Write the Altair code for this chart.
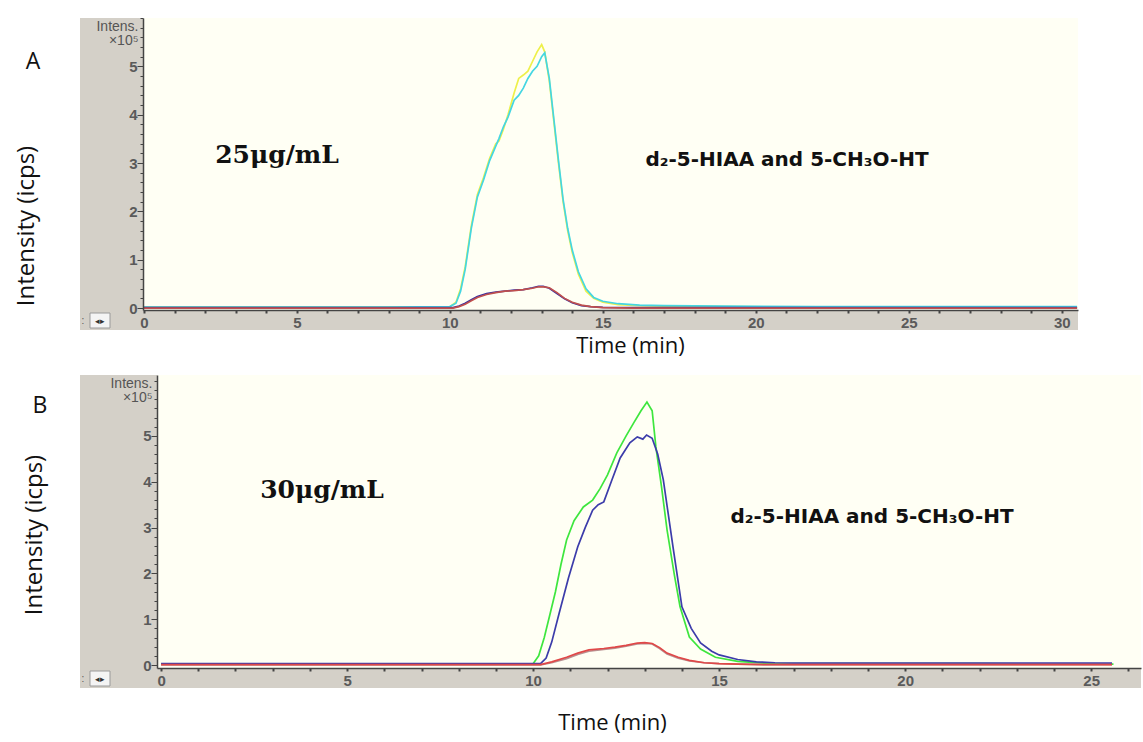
import altair as alt
import pandas as pd

# ---------------- Panel A (25 µg/mL) : time (min) / intensity (x10^5 icps) ----------------
A_YELLOW_T = [0.0, 2.0, 5.0, 8.0, 10.0, 10.2, 10.35, 10.5, 10.7, 10.9, 11.1, 11.3, 11.5, 11.6, 11.75,
              11.9, 12.1, 12.25, 12.4, 12.55, 12.7, 12.85, 13.0, 13.1, 13.25, 13.4, 13.55, 13.7, 13.85,
              14.0, 14.2, 14.45, 14.7, 15.0, 15.5, 16.2, 17.0, 19.0, 22.0, 25.0, 28.0, 30.5]
A_YELLOW_V = [0.02, 0.02, 0.02, 0.02, 0.03, 0.12, 0.4, 0.85, 1.7, 2.35, 2.7, 3.1, 3.4, 3.45, 3.7,
              4.0, 4.45, 4.75, 4.82, 4.9, 5.1, 5.3, 5.45, 5.3, 4.7, 3.85, 3.0, 2.2, 1.6,
              1.15, 0.7, 0.35, 0.2, 0.12, 0.07, 0.05, 0.04, 0.03, 0.02, 0.02, 0.02, 0.02]
A_CYAN_T = A_YELLOW_T
A_CYAN_V = [0.02, 0.02, 0.02, 0.02, 0.03, 0.1, 0.35, 0.8, 1.65, 2.3, 2.65, 3.05, 3.35, 3.5, 3.75,
            3.95, 4.3, 4.4, 4.55, 4.75, 4.9, 5.0, 5.2, 5.28, 4.75, 3.9, 3.05, 2.25, 1.65,
            1.2, 0.75, 0.4, 0.22, 0.14, 0.09, 0.06, 0.05, 0.04, 0.03, 0.03, 0.03, 0.03]
A_PURPLE_T = [0.0, 3.0, 6.0, 9.0, 10.1, 10.3, 10.5, 10.7, 10.9, 11.2, 11.5, 11.8, 12.1, 12.4, 12.7,
              12.9, 13.05, 13.25, 13.5, 13.75, 14.0, 14.3, 14.6, 15.0, 16.0, 18.0, 21.0, 25.0, 30.5]
A_PURPLE_V = [0.01, 0.01, 0.01, 0.01, 0.01, 0.04, 0.1, 0.17, 0.24, 0.3, 0.33, 0.35, 0.37, 0.38, 0.42,
              0.45, 0.45, 0.41, 0.3, 0.19, 0.11, 0.05, 0.03, 0.015, 0.01, 0.01, 0.01, 0.01, 0.01]
A_RED_T = A_PURPLE_T
A_RED_V = [0.0, 0.0, 0.0, 0.0, 0.0, 0.03, 0.08, 0.15, 0.22, 0.28, 0.32, 0.35, 0.36, 0.38, 0.41,
           0.44, 0.44, 0.42, 0.32, 0.2, 0.12, 0.06, 0.03, 0.01, 0.0, 0.0, 0.0, 0.0, 0.0]

# ---------------- Panel B (30 µg/mL) ----------------
B_GREEN_T = [0.0, 3.0, 6.0, 9.0, 10.0, 10.15, 10.3, 10.46, 10.6, 10.75, 10.9, 11.1, 11.35, 11.6, 11.8,
             12.0, 12.25, 12.5, 12.7, 12.9, 13.06, 13.2, 13.3, 13.45, 13.6, 13.8, 13.95, 14.2, 14.5,
             14.9, 15.5, 16.2, 17.0, 19.0, 22.0, 25.6]
B_GREEN_V = [0.02, 0.02, 0.02, 0.02, 0.03, 0.2, 0.6, 1.13, 1.6, 2.2, 2.73, 3.15, 3.45, 3.6, 3.85,
             4.15, 4.63, 5.0, 5.28, 5.55, 5.74, 5.55, 4.76, 3.9, 2.95, 1.95, 1.27, 0.61, 0.35,
             0.17, 0.08, 0.04, 0.03, 0.03, 0.03, 0.02]
B_BLUE_T = [0.0, 3.0, 6.0, 9.0, 10.2, 10.35, 10.5, 10.7, 10.95, 11.2, 11.4, 11.6, 11.75, 11.9, 12.1,
            12.34, 12.6, 12.8, 12.95, 13.05, 13.2, 13.35, 13.5, 13.76, 14.0, 14.25, 14.5, 14.8, 15.0,
            15.5, 16.0, 16.5, 17.0, 20.0, 23.0, 25.56]
B_BLUE_V = [0.03, 0.03, 0.03, 0.03, 0.03, 0.15, 0.5, 1.13, 1.9, 2.58, 3.0, 3.38, 3.5, 3.56, 4.0,
            4.52, 4.85, 4.98, 4.93, 5.02, 4.95, 4.6, 4.04, 2.58, 1.27, 0.8, 0.48, 0.3, 0.22,
            0.12, 0.07, 0.05, 0.04, 0.04, 0.04, 0.04]
B_RED_T = [0.0, 3.0, 6.0, 9.0, 10.2, 10.5, 10.9, 11.2, 11.5, 11.9, 12.2, 12.5, 12.8, 13.0, 13.2,
           13.4, 13.6, 13.9, 14.2, 14.6, 15.0, 15.5, 16.2, 20.0, 25.56]
B_RED_V = [0.01, 0.01, 0.01, 0.01, 0.01, 0.07, 0.17, 0.26, 0.33, 0.36, 0.39, 0.43, 0.48, 0.49, 0.47,
           0.38, 0.26, 0.17, 0.1, 0.05, 0.03, 0.02, 0.01, 0.01, 0.01]
B_GRAY_T = B_RED_T
B_GRAY_V = [0.0, 0.0, 0.0, 0.0, 0.0, 0.05, 0.14, 0.23, 0.3, 0.34, 0.37, 0.41, 0.46, 0.47, 0.46,
            0.36, 0.24, 0.15, 0.09, 0.05, 0.03, 0.02, 0.01, 0.01, 0.01]

A_SERIES = ["A yellow", "A cyan", "A purple", "A red"]
A_COLORS = ["#eef04a", "#45d6e2", "#3b2f9e", "#c0504d"]
B_SERIES = ["B green", "B blue", "B gray", "B red"]
B_COLORS = ["#3ee63e", "#3c3caa", "#b89090", "#e04848"]

Y_MAJOR = [0, 1, 2, 3, 4, 5]
CONC_A = "25μg/mL"
CONC_B = "30μg/mL"
COMPOUND = "d₂-5-HIAA and 5-CH₃O-HT"

ONE = pd.DataFrame({"k": [0]})
GRAY = "#d4d0c8"
CREAM = "#fffff4"


def long_df(series):
    rows = []
    for name, ts, vs in series:
        for t, v in zip(ts, vs):
            rows.append({"series": name, "t": t, "v": v})
    return pd.DataFrame(rows)


def rect(x, x2, y, y2, fill, stroke=None):
    kw = {"fill": fill}
    if stroke:
        kw.update(stroke=stroke, strokeWidth=1)
    return alt.Chart(ONE).mark_rect(**kw).encode(
        x=alt.value(x), x2=alt.value(x2), y=alt.value(y), y2=alt.value(y2))


def text(t, x, y, **style):
    return alt.Chart(ONE).mark_text(text=t, **style).encode(x=alt.value(x), y=alt.value(y))


def x_axis(max_tick, tx, ty):
    return alt.Axis(values=list(range(0, max_tick + 1)), tickCount=200, tickMinStep=0.1,
                    labelExpr="datum.value % 5 === 0 ? format(datum.value, 'd') : ''",
                    labelOverlap=False, labelFlush=False, labelBound=False,
                    tickSize=3, tickWidth=2, tickColor="#444", domainColor="#444", domainWidth=1.5,
                    labelFont="Liberation Sans", labelFontSize=15, labelFontWeight="bold",
                    labelColor="#5a5a5a", labelPadding=2, grid=False,
                    title="Time (min)", titleFont="Open Sans", titleFontSize=22,
                    titleFontWeight="normal", titleColor="#111", titleX=tx, titleY=ty,
                    titleAlign="center", titleBaseline="middle", zindex=1)


def y_axis(n, offset):
    vals = [round(0.2 * i, 1) for i in range(n)]
    major = ",".join(str(v) for v in Y_MAJOR)
    is_major = f"indexof([{major}], datum.value) >= 0"
    return alt.Axis(values=vals, tickCount=200, tickMinStep=0.1,
                    labelExpr=f"{is_major} ? format(datum.value, 'd') : ''",
                    labelOverlap=False, labelFlush=False, labelBound=False,
                    tickSize={"condition": {"test": is_major, "value": 6}, "value": 3},
                    tickWidth=1, tickColor="#444", domainColor="#444", domainWidth=1.5,
                    labelFont="Liberation Sans", labelFontSize=15, labelFontWeight="bold",
                    labelColor="#5a5a5a", labelPadding=0, grid=False, offset=offset,
                    title=["Intens.", "×10⁵"], titleAngle=0, titleAlign="right", titleBaseline="top",
                    titleX=-5, titleY=1, titleFont="Liberation Sans", titleFontSize=14,
                    titleFontWeight="normal", titleColor="#555", titleLineHeight=14, zindex=1)


def panel(df, names, colors, xdom, ydom, xmax_tick, ny, W, H, left, top_pad, bot_ext, lbl, conc,
          conc_xy, comp_xy, letter_xy, ylab_xy, title_xy):
    strip_h = 20
    gw = 63  # gray left margin starts 63 px left of the panel origin
    layers = [
        rect(-143, 999, -top_pad, bot_ext, "white"),
        rect(left, W, 0, H, CREAM),
        rect(-gw, left, 0, H + strip_h, GRAY),
        rect(-gw, W, H, H + strip_h, GRAY),
        rect(-gw + 10, -gw + 30, H + 3, H + strip_h - 2, "#f4f4f4", "#9a9a9a"),
        text("◂▸", -gw + 20, H + 11, fontSize=9, color="#333"),
        text(":", -gw + 3, H + 11, fontSize=10, color="#555"),
    ]
    xscale = alt.Scale(domain=xdom, nice=False, zero=False, range=[left, W])
    lines = alt.Chart(df).mark_line(strokeWidth=1.7).encode(
        x=alt.X("t:Q", scale=xscale, axis=x_axis(xmax_tick, title_xy[0], title_xy[1])),
        y=alt.Y("v:Q", scale=alt.Scale(domain=ydom, nice=False, zero=False), axis=y_axis(ny, -left)),
        color=alt.Color("series:N", scale=alt.Scale(domain=names, range=colors), legend=None),
        order=alt.Order("ord:Q"),
    ).transform_calculate(ord=f"indexof({names!r}, datum.series)")
    layers.append(lines)
    layers += [
        text(conc, conc_xy[0], conc_xy[1], font="DejaVu Serif", fontSize=25, fontWeight="bold", color="#111"),
        text(COMPOUND, comp_xy[0], comp_xy[1], font="DejaVu Sans", fontSize=20, fontWeight="bold", color="#111"),
        text(lbl, letter_xy[0], letter_xy[1], font="Open Sans", fontSize=23, color="#111"),
        text("Intensity (icps)", ylab_xy[0], ylab_xy[1], font="Open Sans", fontSize=24, angle=270, color="#111"),
    ]
    return alt.layer(*layers).properties(width=W, height=H)


df_a = long_df([(A_SERIES[0], A_YELLOW_T, A_YELLOW_V), (A_SERIES[1], A_CYAN_T, A_CYAN_V),
                (A_SERIES[2], A_PURPLE_T, A_PURPLE_V), (A_SERIES[3], A_RED_T, A_RED_V)])
df_b = long_df([(B_SERIES[0], B_GREEN_T, B_GREEN_V), (B_SERIES[1], B_BLUE_T, B_BLUE_V),
                (B_SERIES[2], B_GRAY_T, B_GRAY_V), (B_SERIES[3], B_RED_T, B_RED_V)])

top = panel(df_a, A_SERIES, A_COLORS, [-0.03, 30.53], [-0.04, 6.0], 30, 31,
            935, 292, 0, 18, 342, "A", CONC_A, (134, 137), (644, 142), (-110, 44), (-116, 208),
            (487, 35))
bottom = panel(df_b, B_SERIES, B_COLORS, [-0.11, 26.34], [-0.065, 6.33], 26, 32,
               998, 293, 14, 15, 365, "B", CONC_B, (179, 115), (729, 142), (-103, 31), (-108, 160),
               (469, 54))

chart = alt.concat(top, bottom, columns=1, spacing=0).resolve_scale(color="independent").properties(
    padding=0, background="white"
).configure_view(stroke=None)

chart.save("out.html", embed_options={"renderer": "svg", "actions": False})
